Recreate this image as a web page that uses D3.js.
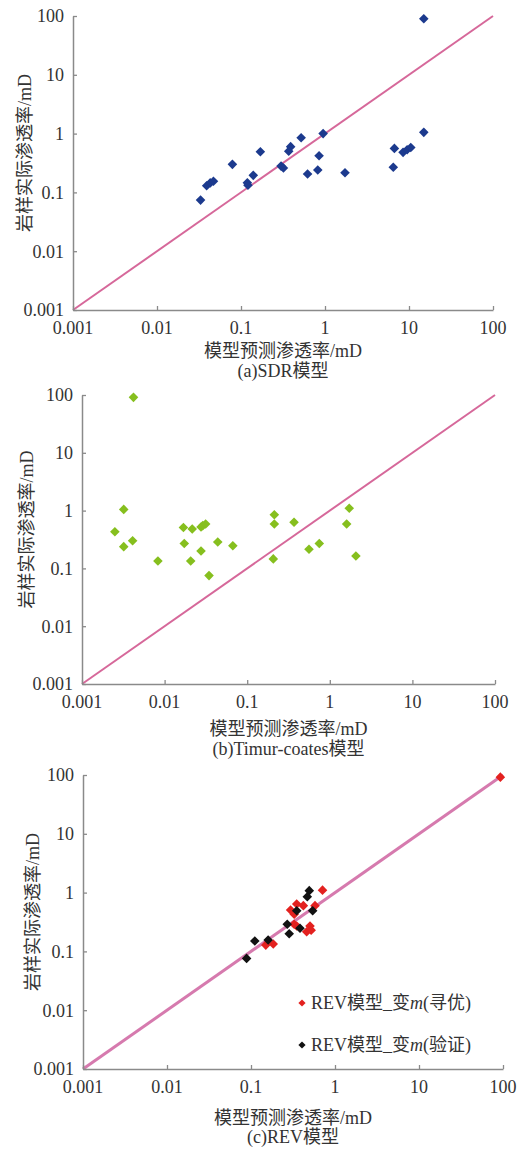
<!DOCTYPE html>
<html>
<head>
<meta charset="utf-8">
<script src="https://cdn.jsdelivr.net/npm/d3@7"></script>
<style>
  body { margin: 0; background: #fff; }
  text { font-family: "Liberation Serif", "Noto Sans CJK SC", serif; fill: #333; }
</style>
</head>
<body>
<div id="chart"></div>
<script>
// tick values / labels shared by all axes
const tickValues = [0.001, 0.01, 0.1, 1, 10, 100];
const tickLabels = ["0.001", "0.01", "0.1", "1", "10", "100"];

// (a) SDR model
const sdrX = [15, 15, 0.95, 0.52, 0.39, 0.37, 0.85, 0.17, 0.079, 0.30, 0.32, 0.62, 0.82, 1.73, 0.14, 0.119, 0.121, 0.039, 0.043, 0.047, 0.033, 6.7, 6.5, 8.5, 9.5, 10.5];
const sdrY = [90, 1.05, 1.0, 0.85, 0.6, 0.5, 0.42, 0.49, 0.30, 0.28, 0.26, 0.206, 0.24, 0.216, 0.195, 0.146, 0.132, 0.13, 0.145, 0.155, 0.074, 0.56, 0.267, 0.48, 0.53, 0.58];

// (b) Timur-coates model
const timurX = [0.0042, 0.0032, 0.0025, 0.0032, 0.0041, 0.0083, 0.0169, 0.0216, 0.0276, 0.029, 0.0314, 0.0173, 0.0207, 0.0276, 0.0345, 0.044, 0.067, 0.213, 0.213, 0.207, 0.369, 0.56, 0.746, 1.6, 1.72, 2.07];
const timurY = [91, 1.05, 0.43, 0.238, 0.30, 0.134, 0.51, 0.48, 0.52, 0.55, 0.586, 0.27, 0.134, 0.2, 0.075, 0.286, 0.247, 0.85, 0.586, 0.146, 0.627, 0.214, 0.27, 0.586, 1.1, 0.164];

// (c) REV model, optimisation set (red) and validation set (black)
const revOptX = [93, 0.71, 0.35, 0.296, 0.42, 0.578, 0.327, 0.326, 0.35, 0.504, 0.46, 0.52, 0.15, 0.184];
const revOptY = [92, 1.1, 0.64, 0.506, 0.6, 0.6, 0.43, 0.29, 0.27, 0.27, 0.216, 0.23, 0.128, 0.134];
const revValX = [0.494, 0.468, 0.35, 0.542, 0.27, 0.285, 0.383, 0.111, 0.16, 0.0886];
const revValY = [1.08, 0.85, 0.49, 0.49, 0.29, 0.2, 0.247, 0.15, 0.156, 0.076];

const legendLabels = ["REV模型_变", "(寻优)", "(验证)"];

const svg = d3.select("#chart").append("svg")
  .attr("width", 521)
  .attr("height", 1150);

const diamond = d3.symbol().type(d3.symbolSquare).size(46);

function drawPanel(p) {
  const x = d3.scaleLog().domain([0.001, 100]).range([p.left, p.right]);
  const y = d3.scaleLog().domain([0.001, 100]).range([p.bottom, p.top]);
  const g = svg.append("g");

  // 1:1 line
  g.append("line")
    .attr("x1", x(0.001)).attr("y1", y(0.001))
    .attr("x2", x(100)).attr("y2", y(100))
    .attr("stroke", p.lineColor)
    .attr("stroke-width", p.lineWidth);

  // axes (ticks pointing inward)
  const xAxis = d3.axisTop(x).tickValues(tickValues).tickFormat("").tickSizeInner(4).tickSizeOuter(0);
  const yAxis = d3.axisRight(y).tickValues(tickValues).tickFormat("").tickSizeInner(4).tickSizeOuter(0);
  const gx = g.append("g").attr("transform", `translate(0,${p.bottom})`).call(xAxis);
  const gy = g.append("g").attr("transform", `translate(${p.left},0)`).call(yAxis);
  [gx, gy].forEach((a) => {
    a.select(".domain").attr("stroke", "#8a8a8a").attr("stroke-width", 1.5);
    a.selectAll(".tick line").attr("stroke", "#8a8a8a").attr("stroke-width", 1.3);
  });

  // tick labels
  g.selectAll(".xlab").data(tickValues).join("text")
    .attr("x", (d) => x(d))
    .attr("y", p.bottom + 24)
    .attr("text-anchor", "middle")
    .style("font-size", "18px")
    .text((d, i) => tickLabels[i]);
  g.selectAll(".ylab").data(tickValues).join("text")
    .attr("x", p.left - 9)
    .attr("y", (d) => y(d))
    .attr("dy", "0.35em")
    .attr("text-anchor", "end")
    .style("font-size", "18px")
    .text((d, i) => tickLabels[i]);

  // axis titles
  g.append("text")
    .attr("x", (p.left + p.right) / 2)
    .attr("y", p.xTitleY)
    .attr("text-anchor", "middle")
    .style("font-size", "18px")
    .text("模型预测渗透率/mD");
  g.append("text")
    .attr("transform", `translate(${p.yTitleX},${(p.top + p.bottom) / 2 - 10}) rotate(-90)`)
    .attr("text-anchor", "middle")
    .style("font-size", "18px")
    .text("岩样实际渗透率/mD");
  g.append("text")
    .attr("x", (p.left + p.right) / 2)
    .attr("y", p.captionY)
    .attr("text-anchor", "middle")
    .style("font-size", "18px")
    .text(p.caption);

  // points
  p.series.forEach((s) => {
    g.append("g").selectAll("path")
      .data(s.xs.map((v, i) => [v, s.ys[i]]))
      .join("path")
      .attr("d", diamond)
      .attr("transform", (d) => `translate(${x(d[0])},${y(d[1])}) rotate(45)`)
      .attr("fill", s.color);
  });
  return { x, y, g };
}

drawPanel({
  left: 73, right: 493, top: 16, bottom: 310,
  xTitleY: 357, captionY: 377, yTitleX: 31,
  lineColor: "#d6689a", lineWidth: 2,
  caption: "(a)SDR模型",
  series: [{ xs: sdrX, ys: sdrY, color: "#1c3a8e" }]
});

drawPanel({
  left: 82, right: 495, top: 395, bottom: 684,
  xTitleY: 735, captionY: 755, yTitleX: 33,
  lineColor: "#d6689a", lineWidth: 2,
  caption: "(b)Timur-coates模型",
  series: [{ xs: timurX, ys: timurY, color: "#86bf1e" }]
});

const pc = drawPanel({
  left: 83, right: 503, top: 775, bottom: 1069,
  xTitleY: 1124, captionY: 1143, yTitleX: 39,
  lineColor: "#d67aae", lineWidth: 3,
  caption: "(c)REV模型",
  series: [
    { xs: revOptX, ys: revOptY, color: "#e3211f" },
    { xs: revValX, ys: revValY, color: "#111111" }
  ]
});

// legend for panel (c)
const legend = [
  { color: "#e3211f", label: legendLabels[1], y: 1003 },
  { color: "#111111", label: legendLabels[2], y: 1045 }
];
legend.forEach((l) => {
  pc.g.append("path")
    .attr("d", d3.symbol().type(d3.symbolSquare).size(26))
    .attr("transform", `translate(302,${l.y}) rotate(45)`)
    .attr("fill", l.color);
  const t = pc.g.append("text")
    .attr("x", 311)
    .attr("y", l.y)
    .attr("dy", "0.35em")
    .style("font-size", "18px");
  t.append("tspan").text(legendLabels[0]);
  t.append("tspan").style("font-style", "italic").text("m");
  t.append("tspan").text(l.label);
});
</script>
</body>
</html>
